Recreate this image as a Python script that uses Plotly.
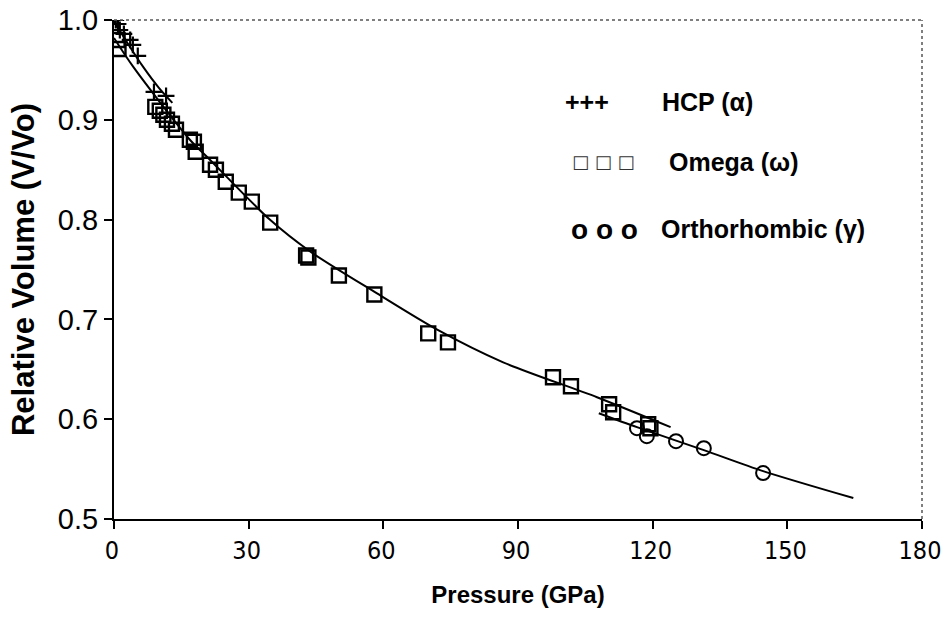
import plotly.graph_objects as go

# ---- data ----
hcp_p = [0.4, 0.9, 1.3, 2.2, 3.6, 4.2, 5.3, 8.9, 11.6]
hcp_v = [1.000, 0.996, 0.990, 0.986, 0.980, 0.975, 0.964, 0.928, 0.924]

omega_p = [0.8, 1.0, 9.2, 10.2, 11.0, 11.8, 12.9, 13.8, 16.9, 17.8, 18.2,
           21.4, 22.7, 24.9, 27.8, 30.7, 34.8, 42.8, 43.3, 50.1, 58.0,
           70.0, 74.4, 97.8, 101.8, 110.3, 111.2, 119.0, 119.5]
omega_v = [0.980, 0.971, 0.913, 0.909, 0.905, 0.900, 0.896, 0.890, 0.880, 0.878, 0.868,
           0.855, 0.850, 0.838, 0.827, 0.818, 0.797, 0.764, 0.762, 0.744, 0.725,
           0.686, 0.677, 0.642, 0.633, 0.615, 0.607, 0.595, 0.591]

ortho_p = [116.5, 118.7, 125.2, 131.4, 144.6]
ortho_v = [0.591, 0.583, 0.578, 0.571, 0.546]

hcp_fit_p = [0, 3, 6.5, 10, 13]
hcp_fit_v = [0.999, 0.977, 0.953, 0.932, 0.917]

omega_fit_p = [0, 4.3, 16.9, 20.7, 34.7, 43.7, 58.6, 71.9, 86.7, 107.6, 124]
omega_fit_v = [0.982, 0.953, 0.880, 0.863, 0.800, 0.768, 0.726, 0.690, 0.657, 0.622, 0.592]

ortho_fit_p = [108, 116.5, 131.4, 144.6, 164.7]
ortho_fit_v = [0.606, 0.592, 0.569, 0.548, 0.521]

x_ticks = [0, 30, 60, 90, 120, 150, 180]
y_ticks = [0.5, 0.6, 0.7, 0.8, 0.9, 1.0]

legend_rows = [("+++", "HCP (α)"), ("□ □ □", "Omega (ω)"), ("o o o", "Orthorhombic (γ)")]

NARROW = "Liberation Sans Narrow, Arial Narrow, DejaVu Sans Condensed, Liberation Sans"
SANS = "Liberation Sans, Arial"

fig = go.Figure()

line_style = dict(color="black", width=2, shape="spline", smoothing=0.8)
for px_, py_ in [(hcp_fit_p, hcp_fit_v), (omega_fit_p, omega_fit_v), (ortho_fit_p, ortho_fit_v)]:
    fig.add_trace(go.Scatter(x=px_, y=py_, mode="lines", line=line_style,
                             showlegend=False, hoverinfo="skip"))

fig.add_trace(go.Scatter(x=omega_p, y=omega_v, mode="markers", showlegend=False,
                         marker=dict(symbol="square-open", size=14, color="black",
                                     line=dict(width=2.4, color="black"))))
fig.add_trace(go.Scatter(x=ortho_p, y=ortho_v, mode="markers", showlegend=False,
                         marker=dict(symbol="circle-open", size=14, color="black",
                                     line=dict(width=2, color="black"))))
fig.add_trace(go.Scatter(x=hcp_p, y=hcp_v, mode="markers", showlegend=False,
                         marker=dict(symbol="cross-thin-open", size=12, color="black",
                                     line=dict(width=2.2, color="black"))))

# legend drawn as text, like the reference
row_y = [102, 162, 229]   # pixel rows
sym_x = [587, 603, 604]
sym_font = [dict(size=25, family=SANS, color="black"),
            dict(size=18, family="DejaVu Sans", color="#333"),
            dict(size=28, family=SANS, color="black")]
txt_x = [660, 667, 659]
W, H = 941, 626
L, R, T, B = 114, 19, 20, 107
pw, ph = W - L - R, H - T - B
for i, (sym, label) in enumerate(legend_rows):
    yp = (H - B - row_y[i]) / ph
    fig.add_annotation(x=(sym_x[i] - L) / pw, y=yp, xref="paper", yref="paper",
                       text=f"<b>{sym}</b>" if i != 1 else sym, showarrow=False,
                       xanchor="center", yanchor="middle", font=sym_font[i])
    fig.add_annotation(x=(txt_x[i] - L) / pw, y=yp, xref="paper", yref="paper",
                       text=f"<b>{label}</b>", showarrow=False,
                       xanchor="left", yanchor="middle",
                       font=dict(size=25, family=SANS, color="black"))

# dotted top and right frame
fig.add_shape(type="line", xref="paper", yref="paper", x0=0, x1=1, y0=1, y1=1,
              line=dict(color="#555", width=1.5, dash="dot"))
fig.add_shape(type="line", xref="paper", yref="paper", x0=1, x1=1, y0=0, y1=1,
              line=dict(color="#555", width=1.5, dash="dot"))

fig.update_layout(
    width=W, height=H,
    margin=dict(l=L, r=R, t=T, b=B, autoexpand=False),
    paper_bgcolor="white", plot_bgcolor="white",
    showlegend=False,
)
fig.update_xaxes(range=[0, 180], tickvals=x_ticks, ticks="outside", ticklen=8, tickwidth=2,
                 tickcolor="black", showline=True, linecolor="black", linewidth=2,
                 showgrid=False, zeroline=False, ticklabeloverflow="allow", automargin=False,
                 ticklabelshift=-2,
                 tickfont=dict(size=25, family=NARROW, color="black"),
                 title=dict(text="<b>Pressure (GPa)</b>", standoff=22,
                            font=dict(size=24, family=SANS, color="black")))
fig.update_yaxes(range=[0.5, 1.0], tickvals=y_ticks, tickformat=".1f", ticks="outside",
                 ticklen=8, tickwidth=2, tickcolor="black", showline=True, linecolor="black",
                 linewidth=2, showgrid=False, zeroline=False, automargin=False,
                 tickfont=dict(size=29, family=SANS, color="black"),
                 title=dict(text="<b>Relative Volume (V/Vo)</b>", standoff=14,
                            font=dict(size=31, family=SANS, color="black")))

fig.write_html("out.html")
